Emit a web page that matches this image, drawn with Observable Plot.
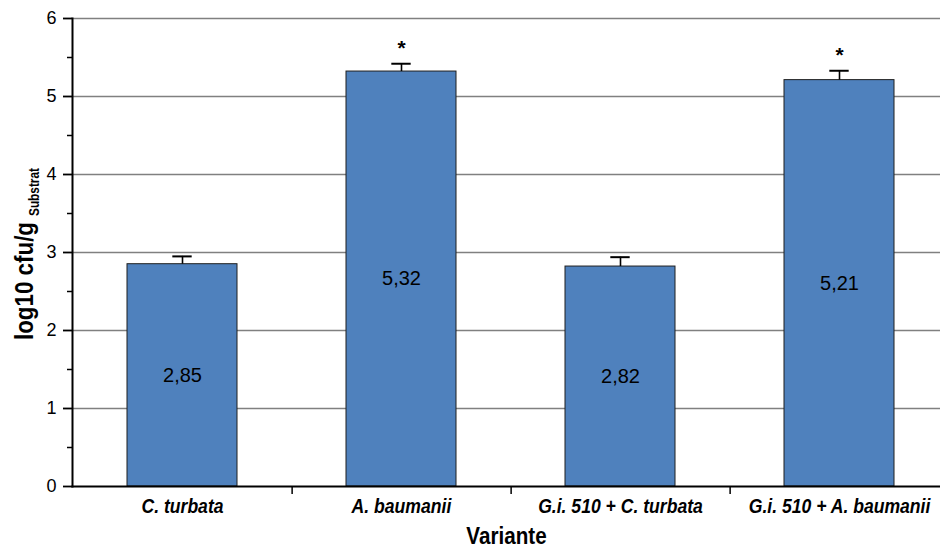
<!DOCTYPE html>
<html>
<head>
<meta charset="utf-8">
<script src="https://cdn.jsdelivr.net/npm/d3@7"></script>
<script src="https://cdn.jsdelivr.net/npm/@observablehq/plot@0.6"></script>
<style>
  html, body { margin: 0; padding: 0; background: #fff; }
  #chart svg { display: block; }
</style>
</head>
<body>
<div id="chart"></div>
<script>
const categories = ["C. turbata", "A. baumanii", "G.i. 510 + C. turbata", "G.i. 510 + A. baumanii"];
const values = [2.85, 5.32, 2.82, 5.21];
const errors = [0.10, 0.10, 0.12, 0.12];
const significant = [false, true, false, true];
const valueLabels = ["2,85", "5,32", "2,82", "5,21"];
const yTicks = [0, 1, 2, 3, 4, 5, 6];
const yMinorTicks = [0.5, 1.5, 2.5, 3.5, 4.5, 5.5];
const xLabel = "Variante";
const yLabelMain = "log10 cfu/g";
const yLabelSub = "Substrat";

const data = categories.map((c, i) => ({
  cat: c, value: values[i], err: errors[i], hi: values[i] + errors[i],
  sig: significant[i], label: valueLabels[i]
}));

const W = 940, H = 551;
const mL = 72, mR = 0, mT = 18, mB = 65;
const xEnd = 949;                 // category axis runs slightly past the right edge
const padIn = 0.5;
const step = (xEnd - mL) / categories.length;
const bandW = step * (1 - padIn);
const capW = 19;
const capInset = (bandW - capW) / 2;
const font = "'Liberation Sans', Arial, sans-serif";

const chart = Plot.plot({
  width: W, height: H,
  marginLeft: mL, marginRight: mR, marginTop: mT, marginBottom: mB,
  style: { fontFamily: font, background: "#fff", color: "#000" },
  x: { domain: categories, range: [mL, xEnd], paddingInner: padIn, paddingOuter: padIn / 2, axis: null },
  y: { domain: [0, 6], axis: null },
  marks: [
    Plot.ruleY(yTicks.filter(d => d > 0), { stroke: "#808080", strokeWidth: 1.3 }),
    Plot.barY(data, { x: "cat", y: "value", fill: "#4F81BD", stroke: "#1f1f1f", strokeWidth: 1 }),
    Plot.ruleX(data, { x: "cat", y1: "value", y2: "hi", stroke: "#000", strokeWidth: 1.6 }),
    Plot.tickY(data, { x: "cat", y: "hi", stroke: "#000", strokeWidth: 2, insetLeft: capInset, insetRight: capInset }),
    Plot.text(data.filter(d => d.sig), { x: "cat", y: "hi", text: () => "*", dy: -15, fontSize: 21, fontWeight: "bold" }),
    Plot.text(data, { x: "cat", y: d => d.value / 2, text: "label", fontSize: 20 }),
    Plot.axisY({ ticks: yTicks, tickFormat: d => String(d), tickSize: 9, tickPadding: 7, fontSize: 18, stroke: "#000", strokeWidth: 1.8, label: null }),
    Plot.axisY({ ticks: yMinorTicks, tickSize: 5, text: null, stroke: "#000", strokeWidth: 1.5, label: null }),
    Plot.axisX({ ticks: categories.slice(0, 3), tickSize: 8, text: null, dx: step / 2, stroke: "#000", strokeWidth: 1.5, label: null }),
    Plot.axisX({ tickSize: 0, tickPadding: 12, fontSize: 20, fontWeight: "bold", fontStyle: "italic", label: null }),
    Plot.frame({ anchor: "left", stroke: "#000", strokeWidth: 2 }),
    Plot.frame({ anchor: "bottom", stroke: "#000", strokeWidth: 2 }),
    Plot.text([xLabel], { frameAnchor: "bottom", dy: 57, fontSize: 24, fontWeight: "bold" })
  ]
});

document.getElementById("chart").appendChild(chart);
const svg = d3.select(chart);

// condense text horizontally (the original uses a narrow face)
function condense(sel, k) {
  sel.each(function () {
    const b = this.getBBox();
    const prev = this.getAttribute("transform") || "";
    // getBBox is in the element's local coords; map its centre through the existing transform
    const m = this.transform.baseVal.consolidate();
    const cxLocal = b.x + b.width / 2;
    const cx = m ? m.matrix.a * cxLocal + m.matrix.e : cxLocal;
    this.setAttribute("transform", `translate(${cx},0) scale(${k},1) translate(${-cx},0) ${prev}`);
  });
}
condense(svg.selectAll("text").filter(function () { return categories.includes(this.textContent); }), 0.88);
condense(svg.selectAll("text").filter(function () { return this.textContent === xLabel; }), 0.86);

// y-axis label with subscript
const L1 = 118, L2 = 48, gap = 6;
const g = svg.append("g")
  .attr("transform", `translate(33, 254) rotate(-90)`)
  .attr("font-family", font)
  .attr("font-weight", "bold")
  .attr("text-anchor", "start")
  .attr("fill", "#000");
const start = -(L1 + gap + L2) / 2;
g.append("text").attr("x", start).attr("y", 0).attr("font-size", 25)
  .attr("textLength", L1).attr("lengthAdjust", "spacingAndGlyphs").text(yLabelMain);
g.append("text").attr("x", start + L1 + gap).attr("y", 6).attr("font-size", 14)
  .attr("textLength", L2).attr("lengthAdjust", "spacingAndGlyphs").text(yLabelSub);
</script>
</body>
</html>
